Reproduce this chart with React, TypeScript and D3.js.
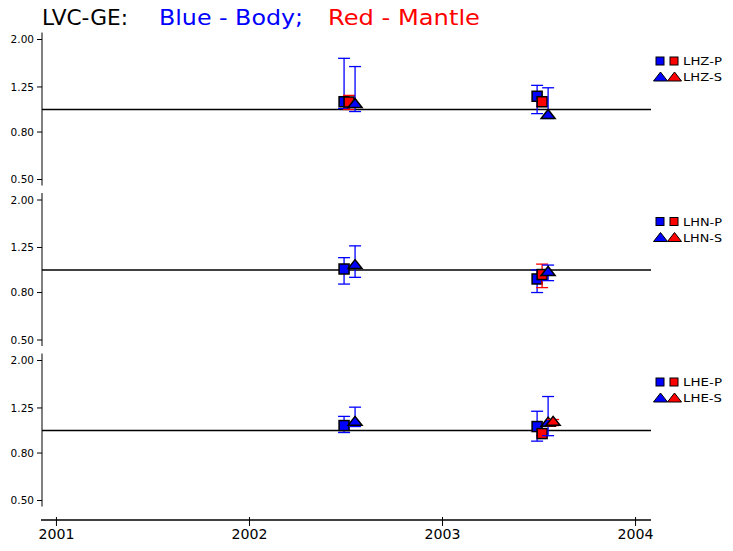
import React from "react";
import * as d3 from "d3";

// ---------- data ----------
const titleStation = "LVC-GE:";
const titleBody = "Blue - Body;";
const titleMantle = "Red - Mantle";
const components = ["LHZ", "LHN", "LHE"];
const epochs = [2002.49, 2003.49];
const yTicks = [0.5, 0.8, 1.25, 2.0];
const yTickLabels = ["0.50", "0.80", "1.25", "2.00"];
const yearTicks = [2001, 2002, 2003, 2004];

// values[component][epoch]; null = no measurement
const pBodyVal = [[1.08, 1.14], [1.01, 0.915], [1.05, 1.04]];
const pBodyLo = [[1.01, 0.96], [0.87, 0.8], [0.98, 0.9]];
const pBodyHi = [[1.66, 1.27], [1.13, 1.0], [1.15, 1.21]];

const pMantleVal = [[1.077, 1.08], [null, 0.956], [null, 0.97]];
const pMantleLo = [[1.0, 1.03], [null, 0.84], [null, 0.95]];
const pMantleHi = [[1.15, 1.1], [null, 1.06], [null, 1.01]];

const sBodyVal = [[1.066, 0.956], [1.06, 0.99], [1.1, 1.09]];
const sBodyLo = [[0.98, 0.915], [0.93, 0.9], [1.04, 0.95]];
const sBodyHi = [[1.53, 1.24], [1.27, 1.05], [1.26, 1.4]];

const sMantleVal = [[null, null], [null, null], [null, 1.1]];
const sMantleLo = [[null, null], [null, null], [null, 1.05]];
const sMantleHi = [[null, null], [null, null], [null, 1.115]];

// ---------- styles ----------
const BLUE = "#0000ff";
const RED = "#ff0000";
const FONT = "'DejaVu Sans', sans-serif";

const series = [
  { val: pBodyVal, lo: pBodyLo, hi: pBodyHi, color: BLUE, shape: "sq", dx: 0 },
  { val: pMantleVal, lo: pMantleLo, hi: pMantleHi, color: RED, shape: "sq", dx: 5 },
  { val: sBodyVal, lo: sBodyLo, hi: sBodyHi, color: BLUE, shape: "tri", dx: 11 },
  { val: sMantleVal, lo: sMantleLo, hi: sMantleHi, color: RED, shape: "tri", dx: 16 },
];

const W = 733;
const H = 551;
const xLeft = 41;
const xRight = 651;
const panelTop0 = 39.5;
const panelStep = 160.5;
const panelH = 140;
const xAxisY = 520;

const x = d3.scaleLinear().domain([2000.92, 2004.08]).range([xLeft, xRight]);

function triPath(cx: number, cy: number, w: number, h: number) {
  return `M${cx - w / 2},${cy + h / 2}L${cx + w / 2},${cy + h / 2}L${cx},${cy - h / 2}Z`;
}

function Marker({ shape, cx, cy, color, size }: any) {
  if (shape === "sq") {
    return (
      <rect x={cx - size / 2} y={cy - size / 2} width={size} height={size}
        fill={color} stroke="#000" strokeWidth={1.5} />
    );
  }
  return <path d={triPath(cx, cy, size * 1.4, size * 0.9)} fill={color} stroke="#000" strokeWidth={1.5} strokeLinejoin="miter" />;
}

function Panel({ idx }: { idx: number }) {
  const top = panelTop0 + idx * panelStep;
  const y = d3.scaleLog().domain([0.5, 2]).range([top + panelH, top]);
  const comp = components[idx];
  const lx = 656;
  return (
    <g>
      {/* y axis */}
      <line x1={xLeft + 1} x2={xLeft + 1} y1={y(2) - 7} y2={y(0.5) + 6} stroke="#000" strokeWidth={1} />
      {yTicks.map((t, i) => (
        <g key={t}>
          <line x1={xLeft - 4} x2={xLeft + 1} y1={y(t)} y2={y(t)} stroke="#000" strokeWidth={1} />
          <text x={34} y={y(t) + 3.8} textAnchor="end" fontSize={10.5} fontFamily={FONT} fill="#000">
            {yTickLabels[i]}
          </text>
        </g>
      ))}
      {/* reference line at 1 */}
      <line x1={xLeft + 1} x2={xRight} y1={y(1)} y2={y(1)} stroke="#000" strokeWidth={1.5} />
      {/* data */}
      {series.map((s, si) =>
        epochs.map((ep, ei) => {
          const v = s.val[idx][ei];
          if (v == null) return null;
          const lo = s.lo[idx][ei] as number;
          const hi = s.hi[idx][ei] as number;
          const cx = x(ep) + s.dx;
          return (
            <g key={`${si}-${ei}`}>
              <line x1={cx} x2={cx} y1={y(lo)} y2={y(hi)} stroke={s.color} strokeWidth={1.3} />
              <line x1={cx - 6} x2={cx + 6} y1={y(lo)} y2={y(lo)} stroke={s.color} strokeWidth={1.3} />
              <line x1={cx - 6} x2={cx + 6} y1={y(hi)} y2={y(hi)} stroke={s.color} strokeWidth={1.3} />
              <Marker shape={s.shape} cx={cx} cy={y(v)} color={s.color} size={10} />
            </g>
          );
        })
      )}
      {/* legend */}
      <rect x={lx} y={top + 17.5} width={8} height={8} fill={BLUE} stroke="#000" strokeWidth={1} />
      <rect x={lx + 14} y={top + 17.5} width={8} height={8} fill={RED} stroke="#000" strokeWidth={1} />
      <text x={683} y={top + 25.5} fontSize={11} fontFamily={FONT} textLength={39} lengthAdjust="spacingAndGlyphs">
        {comp}-P
      </text>
      <path d={triPath(660.5, top + 37, 14, 9)} fill={BLUE} stroke="#000" strokeWidth={1} />
      <path d={triPath(674.5, top + 37, 14, 9)} fill={RED} stroke="#000" strokeWidth={1} />
      <text x={683} y={top + 41.5} fontSize={11} fontFamily={FONT} textLength={39} lengthAdjust="spacingAndGlyphs">
        {comp}-S
      </text>
    </g>
  );
}

export default function App() {
  return (
    <svg width={W} height={H} style={{ position: "absolute", left: 0, top: 0, background: "#fff" }}>
      <rect width={W} height={H} fill="#fff" />
      <text x={42} y={25} fontSize={21} fontFamily={FONT} fill="#000" textLength={86} lengthAdjust="spacingAndGlyphs">
        {titleStation}
      </text>
      <text x={159} y={25} fontSize={21} fontFamily={FONT} fill={BLUE} textLength={144} lengthAdjust="spacingAndGlyphs">
        {titleBody}
      </text>
      <text x={328} y={25} fontSize={21} fontFamily={FONT} fill={RED} textLength={152} lengthAdjust="spacingAndGlyphs">
        {titleMantle}
      </text>
      {components.map((c, i) => (
        <Panel key={c} idx={i} />
      ))}
      {/* x axis */}
      <line x1={xLeft} x2={xRight} y1={xAxisY} y2={xAxisY} stroke="#000" strokeWidth={1.5} />
      {yearTicks.map((t) => (
        <g key={t}>
          <line x1={x(t)} x2={x(t)} y1={xAxisY - 3} y2={xAxisY + 6} stroke="#000" strokeWidth={1} />
          <text x={x(t) - 18} y={539} fontSize={14} fontFamily={FONT} fill="#000" textLength={36} lengthAdjust="spacingAndGlyphs">
            {t}
          </text>
        </g>
      ))}
    </svg>
  );
}
